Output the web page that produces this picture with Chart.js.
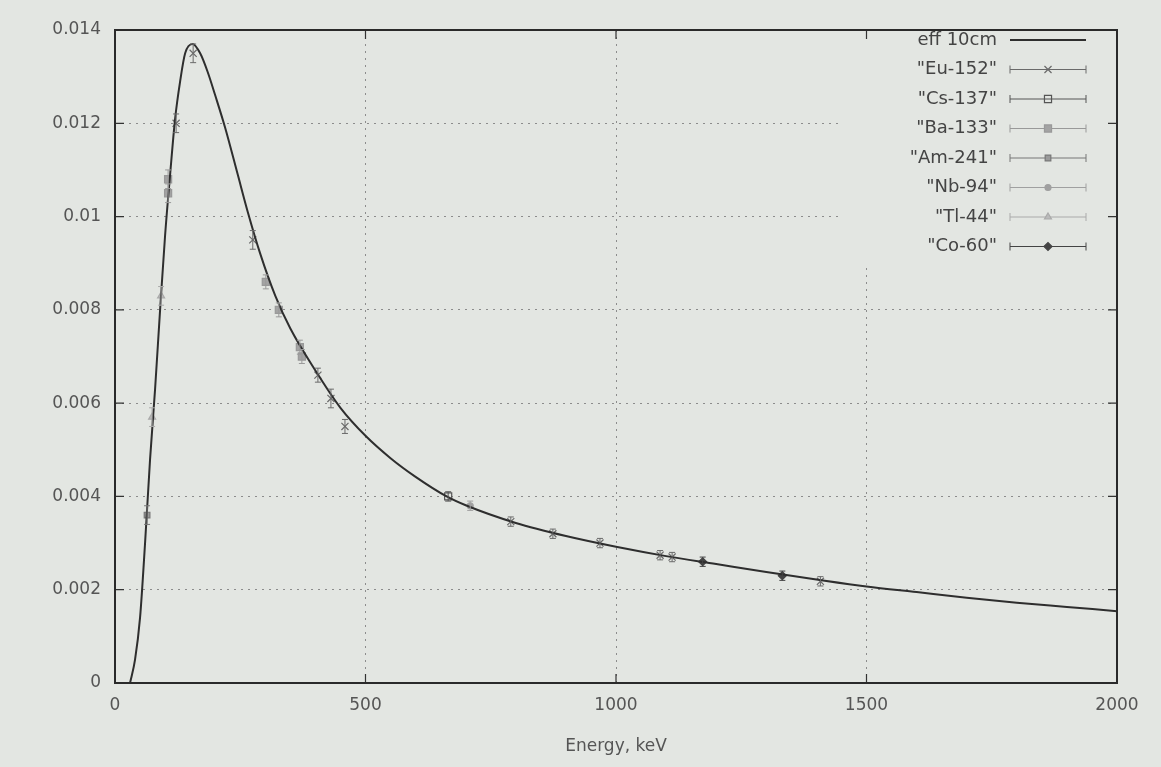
<!DOCTYPE html>
<html lang="en">
<head>
  <meta charset="UTF-8" />
  <title>Efficiency 10cm</title>
  <script src="https://cdn.jsdelivr.net/npm/chart.js"></script>
  <style>
    body {
      margin: 0;
      background-color: #e3e6e2;
    }
    .wrap {
      width: 1161px;
      height: 767px;
    }
  </style>
</head>
<body>
  <div class="wrap"><canvas id="effChart"></canvas></div>

  <script>
    // fitted efficiency curve, eff 10cm
    const curveEnergy = [30, 40, 50, 60, 70, 80, 90, 100, 110, 120, 130, 140, 155, 170, 185, 200, 220, 245, 265, 290, 320, 350, 400, 450, 500, 550, 600, 662, 700, 800, 900, 1000, 1100, 1200, 1300, 1400, 1500, 1600, 1700, 1800, 1900, 2000];
    const curveEff = [0, 0.0005, 0.0014, 0.0030, 0.0048, 0.0063, 0.0080, 0.0096, 0.0109, 0.0121, 0.0129, 0.0135, 0.0137, 0.0135, 0.0131, 0.0126, 0.0119, 0.0109, 0.0101, 0.0092, 0.0083, 0.0076, 0.0067, 0.0059, 0.0053, 0.00482, 0.00442, 0.0040, 0.00381, 0.00343, 0.00315, 0.00292, 0.00272, 0.00255, 0.00238, 0.00222, 0.00207, 0.00195, 0.00183, 0.00172, 0.00163, 0.00154];

    // measured points: energy (keV), efficiency, error
    const euEnergy = [122, 156, 275, 405, 431, 459, 790, 874, 968, 1088, 1112, 1408];
    const euEff = [0.0120, 0.0135, 0.0095, 0.0066, 0.0061, 0.0055, 0.00346, 0.0032, 0.0030, 0.00274, 0.0027, 0.00218];
    const euErr = [0.0002, 0.0002, 0.0002, 0.00015, 0.0002, 0.00015, 0.0001, 0.0001, 0.0001, 0.0001, 0.0001, 0.0001];

    const csEnergy = [665];
    const csEff = [0.0040];
    const csErr = [0.0001];

    const baEnergy = [106, 106, 301, 327, 369, 373];
    const baEff = [0.0108, 0.0105, 0.0086, 0.0080, 0.0072, 0.0070];
    const baErr = [0.0002, 0.0002, 0.00015, 0.00015, 0.00015, 0.00015];

    const amEnergy = [64];
    const amEff = [0.0036];
    const amErr = [0.0002];

    const nbEnergy = [709];
    const nbEff = [0.0038];
    const nbErr = [0.0001];

    const tlEnergy = [74, 92];
    const tlEff = [0.0057, 0.0083];
    const tlErr = [0.0002, 0.0002];

    const coEnergy = [1173, 1332];
    const coEff = [0.0026, 0.0023];
    const coErr = [0.0001, 0.0001];

    const xTicks = [0, 500, 1000, 1500, 2000];
    const yTicks = [0, 0.002, 0.004, 0.006, 0.008, 0.01, 0.012, 0.014];

    const bg = "#e3e6e2";
    const font = "DejaVu Sans";

    function pts(xs, ys, es) {
      return xs.map((x, i) => ({ x: x, y: ys[i], e: es ? es[i] : 0 }));
    }

    function serie(label, xs, ys, es, style) {
      return Object.assign({
        label: label,
        data: pts(xs, ys, es),
        showLine: false,
        borderWidth: 1.2,
        errorBars: true
      }, style);
    }

    const datasets = [
      {
        label: "eff 10cm",
        data: pts(curveEnergy, curveEff),
        showLine: true,
        borderColor: "#2e2e2e",
        borderWidth: 2,
        pointRadius: 0,
        cubicInterpolationMode: "monotone"
      },
      serie('"Eu-152"', euEnergy, euEff, euErr, { pointStyle: "crossRot", pointRadius: 5, borderColor: "#6a6a6a", backgroundColor: "#6a6a6a" }),
      serie('"Cs-137"', csEnergy, csEff, csErr, { pointStyle: "rect", pointRadius: 5, borderColor: "#555", backgroundColor: "rgba(0,0,0,0)" }),
      serie('"Ba-133"', baEnergy, baEff, baErr, { pointStyle: "rect", pointRadius: 5, borderColor: "#999", backgroundColor: "#a3a3a3" }),
      serie('"Am-241"', amEnergy, amEff, amErr, { pointStyle: "rect", pointRadius: 4, borderColor: "#777", backgroundColor: "#9a9a9a" }),
      serie('"Nb-94"', nbEnergy, nbEff, nbErr, { pointStyle: "circle", pointRadius: 3, borderColor: "#a0a0a0", backgroundColor: "#a0a0a0" }),
      serie('"Tl-44"', tlEnergy, tlEff, tlErr, { pointStyle: "triangle", pointRadius: 4, borderColor: "#aaa", backgroundColor: "#bbb" }),
      serie('"Co-60"', coEnergy, coEff, coErr, { pointStyle: "rectRot", pointRadius: 4, borderColor: "#444", backgroundColor: "#444" })
    ];

    // vertical error bars with caps, gnuplot style
    const errorBars = {
      id: "errorBars",
      afterDatasetsDraw(chart) {
        const ctx = chart.ctx;
        const xs = chart.scales.x, ys = chart.scales.y;
        ctx.save();
        chart.data.datasets.forEach(ds => {
          if (!ds.errorBars) return;
          ctx.strokeStyle = ds.borderColor;
          ctx.lineWidth = 1;
          ds.data.forEach(p => {
            const px = xs.getPixelForValue(p.x);
            const top = ys.getPixelForValue(p.y + p.e);
            const bot = ys.getPixelForValue(p.y - p.e);
            ctx.beginPath();
            ctx.moveTo(px, top); ctx.lineTo(px, bot);
            ctx.moveTo(px - 3, top); ctx.lineTo(px + 3, top);
            ctx.moveTo(px - 3, bot); ctx.lineTo(px + 3, bot);
            ctx.stroke();
          });
        });
        ctx.restore();
      }
    };

    // frame, inner ticks and the key at the top right
    const frameAndKey = {
      id: "frameAndKey",
      afterDraw(chart) {
        const ctx = chart.ctx;
        const a = chart.chartArea;
        const xs = chart.scales.x, ys = chart.scales.y;
        ctx.save();

        // key box hides the grid behind it
        ctx.fillStyle = bg;
        ctx.fillRect(840, a.top + 2, a.right - 842, 232);

        ctx.strokeStyle = "#333";
        ctx.lineWidth = 1.2;
        ctx.beginPath();
        yTicks.forEach(v => {
          const py = ys.getPixelForValue(v);
          ctx.moveTo(a.left, py); ctx.lineTo(a.left + 9, py);
          ctx.moveTo(a.right, py); ctx.lineTo(a.right - 9, py);
        });
        xTicks.forEach(v => {
          const px = xs.getPixelForValue(v);
          ctx.moveTo(px, a.bottom); ctx.lineTo(px, a.bottom - 9);
          ctx.moveTo(px, a.top); ctx.lineTo(px, a.top + 9);
        });
        ctx.stroke();

        ctx.lineWidth = 2;
        ctx.strokeStyle = "#2a2a2a";
        ctx.strokeRect(a.left, a.top, a.right - a.left, a.bottom - a.top);

        // key rows
        const textRight = 997, lineL = 1010, lineR = 1086, mid = 1048;
        ctx.font = "18px '" + font + "'";
        ctx.textAlign = "right";
        ctx.textBaseline = "middle";
        chart.data.datasets.forEach((ds, i) => {
          const y = 40 + i * 29.5;
          ctx.fillStyle = "#444";
          ctx.fillText(ds.label, textRight, y);
          ctx.strokeStyle = ds.borderColor;
          ctx.lineWidth = ds.errorBars ? 1 : 2;
          ctx.beginPath();
          ctx.moveTo(lineL, y); ctx.lineTo(lineR, y);
          if (ds.errorBars) {
            ctx.moveTo(lineL, y - 4); ctx.lineTo(lineL, y + 4);
            ctx.moveTo(lineR, y - 4); ctx.lineTo(lineR, y + 4);
          }
          ctx.stroke();
          if (ds.errorBars) {
            ctx.fillStyle = ds.backgroundColor;
            ctx.strokeStyle = ds.borderColor;
            ctx.lineWidth = ds.borderWidth;
            Chart.helpers.drawPoint(ctx, {
              pointStyle: ds.pointStyle,
              radius: ds.pointRadius,
              borderWidth: ds.borderWidth,
              rotation: 0
            }, mid, y);
          }
        });
        ctx.restore();
      }
    };

    const gridStyle = {
      color: "#8c8c8c",
      lineWidth: 1,
      drawTicks: false
    };

    new Chart(document.getElementById("effChart"), {
      type: "scatter",
      data: { datasets: datasets },
      plugins: [errorBars, frameAndKey],
      options: {
        responsive: true,
        maintainAspectRatio: false,
        animation: false,
        layout: { padding: { left: 10, right: 44, top: 30, bottom: 0 } },
        plugins: {
          legend: { display: false },
          tooltip: { enabled: false }
        },
        scales: {
          x: {
            type: "linear",
            min: 0,
            max: 2000,
            afterBuildTicks: s => { s.ticks = xTicks.map(v => ({ value: v })); },
            afterFit: s => { s.height = 84; },
            grid: gridStyle,
            border: { display: false, dash: [2, 5] },
            ticks: {
              color: "#555",
              padding: 12,
              font: { family: font, size: 17 },
              maxRotation: 0,
              callback: v => String(v)
            },
            title: {
              display: true,
              text: "Energy, keV",
              color: "#555",
              padding: { top: 2, bottom: 10 },
              font: { family: font, size: 17 }
            }
          },
          y: {
            type: "linear",
            min: 0,
            max: 0.014,
            afterBuildTicks: s => { s.ticks = yTicks.map(v => ({ value: v })); },
            afterFit: s => { s.width = 105; },
            grid: gridStyle,
            border: { display: false, dash: [2, 5] },
            ticks: {
              color: "#555",
              padding: 14,
              font: { family: font, size: 17 },
              callback: v => String(Number(v.toFixed(3)))
            }
          }
        }
      }
    });
  </script>
</body>
</html>
